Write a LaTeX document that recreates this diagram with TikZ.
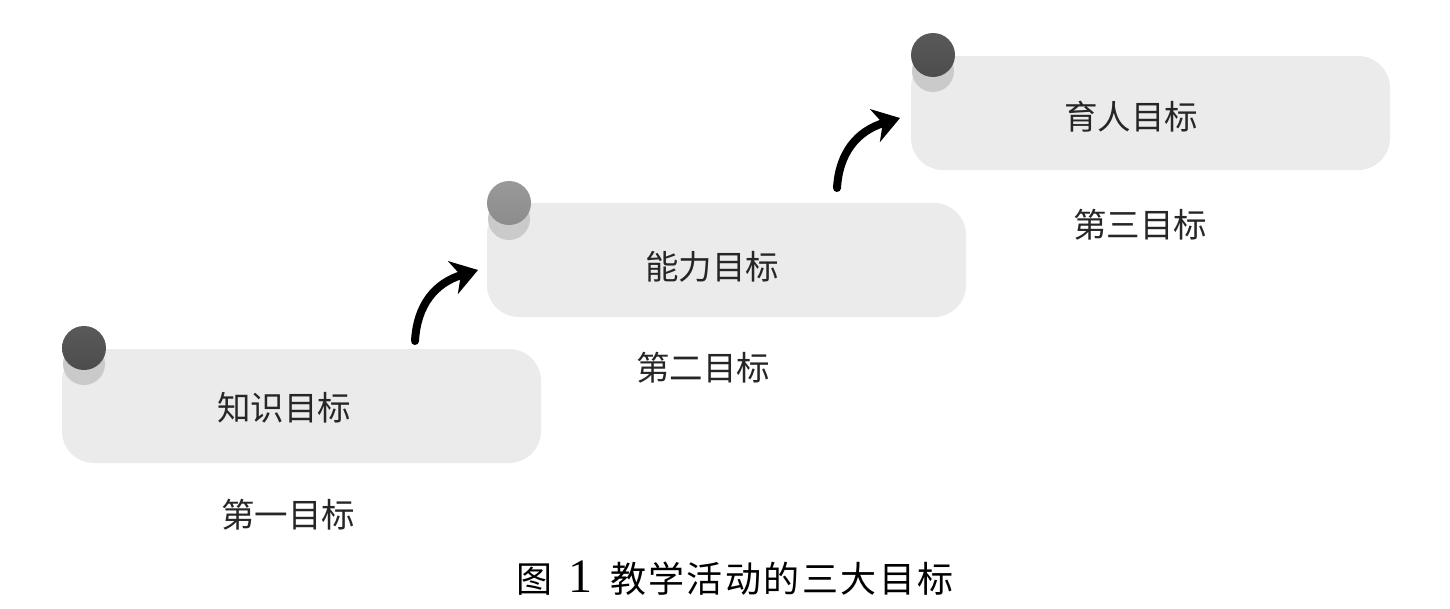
\documentclass[tikz,border=0pt]{standalone}
\usepackage{fontspec}
\newfontfamily\cjk{Noto Sans CJK SC}
\newfontfamily\capnum{Liberation Serif}
\usetikzlibrary{arrows.meta}
\definecolor{boxgray}{HTML}{EBEBEB}
\definecolor{shadowgray}{HTML}{CACACA}
\tikzset{
  goalbox/.style={fill=boxgray, draw=none, rounded corners=32pt, minimum width=479pt, minimum height=114pt, inner sep=0pt},
  boxlabel/.style={font=\cjk\fontsize{33.5}{38}\selectfont, text=black!85},
  subl/.style={font=\cjk\fontsize{33.5}{38}\selectfont, text=black!85},
  shadowball/.style={fill=shadowgray, draw=none},
  stepline/.style={line width=8pt, -{Stealth[length=26pt, width=34pt, inset=8pt]}, line cap=round},
}
\newcommand{\cg}{\hspace{2.5pt}}
\begin{document}
\begin{tikzpicture}[x=1pt,y=-1pt]
\useasboundingbox (0,0) rectangle (1450,608);
\fill[white] (0,0) rectangle (1450,608);
% boxes
\node[goalbox] (b1) at (301.5,406) {};
\node[goalbox] (b2) at (726.5,260) {};
\node[goalbox] (b3) at (1150.5,113) {};
% labels
\node[boxlabel] (t1) at (284,408) {知识目标};
\node[boxlabel] (t2) at (712,267) {能力目标};
\node[boxlabel] (t3) at (1131,117) {育人目标};
\node[subl] (s1) at (288,515) {第一目标};
\node[subl] (s2) at (703,368) {第二目标};
\node[subl] (s3) at (1140,225) {第三目标};
% balls
\fill[shadowball] (84,364) circle (21);
\shade[top color=gray!70!black, bottom color=black!70, draw=none] (84,348) circle (22);
\fill[shadowball] (509,219) circle (21);
\shade[top color=gray!80, bottom color=gray!100!black!90, draw=none] (509,203) circle (22);
\fill[shadowball] (933,71) circle (21);
\shade[top color=gray!70!black, bottom color=black!70, draw=none] (933,55) circle (22);
% arrows
\coordinate (a1s) at (415,341);
\coordinate (a1e) at (478,270);
\coordinate (a2s) at (837,188);
\coordinate (a2e) at (900,118);
\draw[stepline] (a1s) .. controls (417,305) and (435,283) .. (a1e);
\draw[stepline] (a2s) .. controls (839,153) and (857,131) .. (a2e);
% caption
\node[font=\cjk\fontsize{36}{40}\selectfont, text=black] (cap) at (735,578) {图\hspace{16pt}{\capnum\fontsize{48}{50}\selectfont 1}\hspace{18pt}教\cg 学\cg 活\cg 动\cg 的\cg 三\cg 大\cg 目\cg 标};
\end{tikzpicture}
\end{document}
